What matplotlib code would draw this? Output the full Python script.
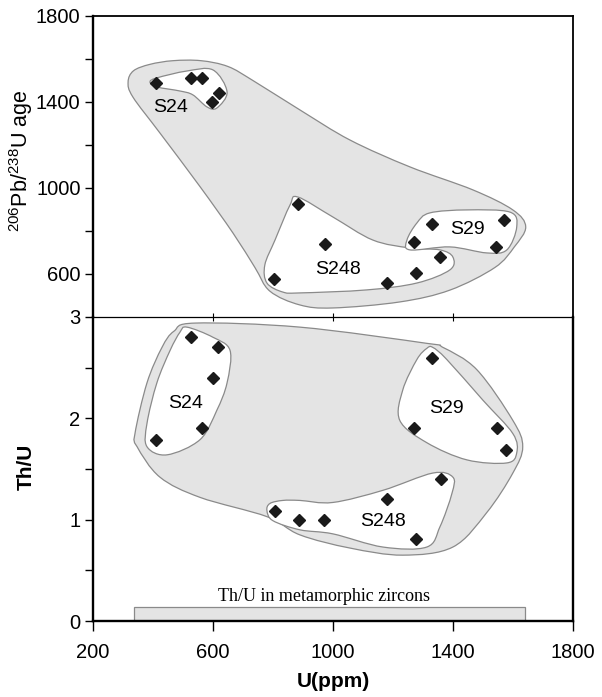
import numpy as np
import matplotlib.pyplot as plt
from matplotlib.path import Path
from matplotlib.patches import PathPatch

plt.rcParams['font.family'] = ['Liberation Sans', 'DejaVu Sans']

# --- zircon analyses: U (ppm), 206Pb/238U age, Th/U ---
s24_u = [410, 527, 562, 620, 597]
s24_age = [1488, 1512, 1512, 1443, 1401]
s24_u2 = [527, 618, 601, 562, 410]
s24_thu = [2.80, 2.70, 2.40, 1.90, 1.79]

s248_u = [804, 884, 973, 1182, 1276, 1357]
s248_age = [575, 926, 738, 560, 603, 680]
s248_u2 = [808, 887, 971, 1181, 1277, 1361]
s248_thu = [1.09, 1.00, 1.00, 1.20, 0.81, 1.40]

s29_u = [1270, 1329, 1572, 1544]
s29_age = [749, 833, 851, 727]
s29_u2 = [1332, 1270, 1547, 1576]
s29_thu = [2.60, 1.90, 1.90, 1.69]

# hand-drawn field outlines (U, y)
top_all = [(317, 1493), (335, 1545), (390, 1575), (467, 1592), (560, 1592), (650, 1565),
           (733, 1500), (890, 1363), (1057, 1223), (1257, 1098), (1467, 991), (1600, 898),
           (1643, 819), (1605, 726), (1540, 630), (1390, 525), (1223, 470), (1000, 442),
           (890, 456), (790, 520), (740, 630), (667, 790), (557, 1006), (423, 1256),
           (333, 1423)]
top_s24 = [(390, 1493), (413, 1512), (513, 1544), (600, 1549), (647, 1447), (613, 1372),
           (580, 1377), (533, 1433), (490, 1451), (413, 1470)]
top_s248 = [(883, 958), (1000, 865), (1133, 758), (1257, 721), (1357, 712), (1400, 679),
            (1390, 619), (1280, 558), (1113, 526), (890, 512), (833, 516), (780, 558),
            (773, 642), (807, 758), (857, 921)]
top_s29 = [(1323, 884), (1447, 898), (1590, 888), (1613, 819), (1580, 712), (1513, 698),
           (1390, 726), (1257, 712), (1247, 758), (1280, 837)]

bot_all = [(540, 2.94), (890, 2.90), (1313, 2.74), (1367, 2.70), (1480, 2.48), (1600, 1.98),
           (1633, 1.72), (1600, 1.46), (1513, 1.07), (1400, 0.73), (1233, 0.65), (1057, 0.72),
           (890, 0.85), (780, 1.03), (557, 1.22), (423, 1.42), (347, 1.72), (340, 1.85),
           (380, 2.35), (430, 2.70), (470, 2.86)]
bot_s24 = [(513, 2.90), (600, 2.80), (657, 2.67), (647, 2.35), (613, 2.08), (557, 1.79),
           (447, 1.64), (380, 1.72), (380, 1.95), (413, 2.35), (457, 2.67), (490, 2.85)]
bot_s29 = [(1333, 2.70), (1380, 2.58), (1500, 2.18), (1600, 1.85), (1613, 1.66), (1580, 1.56),
           (1447, 1.59), (1313, 1.76), (1223, 1.98), (1233, 2.28), (1280, 2.58), (1313, 2.69)]
bot_s248 = [(790, 1.16), (833, 1.19), (890, 1.19), (1000, 1.17), (1167, 1.29), (1333, 1.46),
            (1400, 1.42), (1397, 1.26), (1357, 0.93), (1313, 0.73), (1167, 0.73), (1000, 0.86),
            (890, 0.90), (800, 0.99), (780, 1.09)]

meta_u = [337, 1642]
meta_thu = 0.135

GRAY = '#e4e4e4'
EDGE = '#8a8a8a'


# closed smooth outline through the given points (Catmull-Rom as cubic Beziers)
def blob(ax, pts, face, z):
    p = np.array(pts, dtype=float)
    n = len(p)
    verts = [p[0]]
    codes = [Path.MOVETO]
    for i in range(n):
        p0, p1, p2, p3 = p[i - 1], p[i], p[(i + 1) % n], p[(i + 2) % n]
        verts += [p1 + (p2 - p0) / 6, p2 - (p3 - p1) / 6, p2]
        codes += [Path.CURVE4] * 3
    ax.add_patch(PathPatch(Path(verts, codes), facecolor=face, edgecolor=EDGE,
                           linewidth=0.9, zorder=z))


fig = plt.figure(figsize=(6.02, 6.97), dpi=100)
ax1 = fig.add_axes([0.1545, 0.5452, 0.797, 0.4319])
ax2 = fig.add_axes([0.1545, 0.109, 0.797, 0.4362])
ax2.patch.set_visible(False)

mk = dict(marker='D', color='#1a1a1a', markersize=6.5, linestyle='none', zorder=5)
FS = 14.5

# top panel: age
blob(ax1, top_all, GRAY, 1)
for pts in (top_s24, top_s248, top_s29):
    blob(ax1, pts, 'white', 2)
ax1.plot(s24_u, s24_age, **mk)
ax1.plot(s248_u, s248_age, **mk)
ax1.plot(s29_u, s29_age, **mk)
ax1.text(457, 1372, 'S24', fontsize=14, ha='center', va='center', zorder=6)
ax1.text(1017, 619, 'S248', fontsize=14, ha='center', va='center', zorder=6)
ax1.text(1447, 805, 'S29', fontsize=14, ha='center', va='center', zorder=6)

ax1.set_xlim(200, 1800)
ax1.set_ylim(400, 1800)
ax1.set_yticks([600, 1000, 1400, 1800])
ax1.set_yticks([800, 1200, 1600], minor=True)
ax1.set_xticks([600, 1000, 1400])
ax1.tick_params(axis='x', direction='inout', length=6, width=0.8, labelbottom=False)
ax1.tick_params(axis='y', which='both', length=6, width=1.0, labelsize=FS, pad=3)
ax1.set_ylabel(r'$\mathregular{^{206}Pb/^{238}U}$ age', fontsize=15.5)
ax1.yaxis.set_label_coords(-0.12, 0.52)
ax1.spines['left'].set_linewidth(1.7)
ax1.spines['top'].set_linewidth(1.3)
ax1.spines['right'].set_linewidth(1.3)
ax1.spines['bottom'].set_linewidth(0.9)

# bottom panel: Th/U
blob(ax2, bot_all, GRAY, 1)
for pts in (bot_s24, bot_s29, bot_s248):
    blob(ax2, pts, 'white', 2)
ax2.plot(s24_u2, s24_thu, **mk)
ax2.plot(s248_u2, s248_thu, **mk)
ax2.plot(s29_u2, s29_thu, **mk)
ax2.text(510, 2.15, 'S24', fontsize=14, ha='center', va='center', zorder=6)
ax2.text(1380, 2.10, 'S29', fontsize=14, ha='center', va='center', zorder=6)
ax2.text(1167, 0.98, 'S248', fontsize=14, ha='center', va='center', zorder=6)

ax2.bar(meta_u[0], meta_thu, width=meta_u[1] - meta_u[0], align='edge',
        color=GRAY, edgecolor=EDGE, linewidth=0.9, zorder=2)
ax2.text(sum(meta_u) / 2 - 20, meta_thu + 0.02, 'Th/U in metamorphic zircons',
         family=['Liberation Serif', 'DejaVu Serif'], fontsize=13, ha='center', va='bottom')

ax2.set_xlim(200, 1800)
ax2.set_ylim(0, 3)
ax2.set_xticks([200, 600, 1000, 1400, 1800])
ax2.set_yticks([0, 1, 2, 3])
ax2.set_yticks([0.5, 1.5, 2.5], minor=True)
ax2.tick_params(axis='x', length=7, width=1.0, labelsize=FS, pad=9)
ax2.tick_params(axis='y', which='both', length=6, width=1.0, labelsize=FS, pad=3)
ax2.set_ylabel('Th/U', fontsize=15, fontweight='bold')
ax2.yaxis.set_label_coords(-0.12, 0.507)
ax2.set_xlabel('U(ppm)', fontsize=15, fontweight='bold')
ax2.xaxis.set_label_coords(0.5, -0.168)
ax2.spines['top'].set_visible(False)
ax2.spines['left'].set_linewidth(1.7)
ax2.spines['bottom'].set_linewidth(1.7)
ax2.spines['right'].set_linewidth(1.7)

fig.savefig('out.png', dpi=100)
